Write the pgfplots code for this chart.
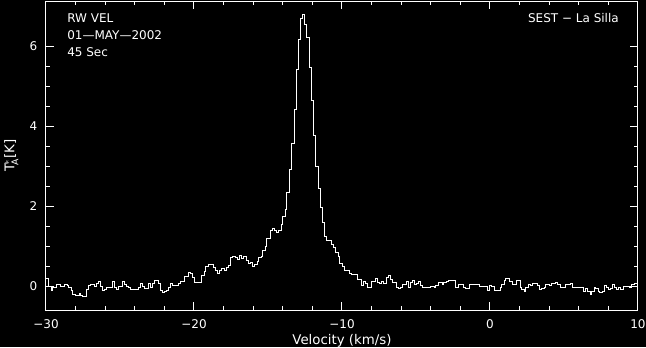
\documentclass[border=0pt]{standalone}
\usepackage{fontspec}
\setmainfont{DejaVu Sans}
\usepackage{pgfplots}
\pgfplotsset{compat=1.18}
\begin{document}
\begin{tikzpicture}
\fill[black, use as bounding box] (-34.5pt,-27.75pt) rectangle (450pt,232.5pt);
\begin{axis}[
 at={(0,0)}, anchor=south west,
 scale only axis, width=444pt, height=231.75pt,
 xmin=-30, xmax=10, ymin=-0.6, ymax=7.13,
 xtick={-30,-20,-10,0,10}, xticklabels={−30,−20,−10,0,10},
 ytick={0,2,4,6}, yticklabels={0,2,4,6},
 minor x tick num=4, minor y tick num=3,
 major tick length=6pt, minor tick length=3pt,
 tick align=inside,
 axis line style={white, line width=0.75pt},
 tick style={white, line width=0.75pt},
 tick label style={text=white, font=\fontsize{9}{11}\selectfont},
 xticklabel style={yshift=-3.75pt},
 yticklabel style={xshift=-3pt},
 label style={text=white, font=\fontsize{10}{12}\selectfont},
 xlabel={Velocity (km/s)},
 ylabel={T$^{\!*}_{\!\mbox{\fontsize{7}{7}\selectfont A}}$[K]},
 xlabel style={at={([yshift=-23pt]axis description cs:0.5,0)}, anchor=center},
 ylabel style={at={([xshift=-26pt]axis description cs:0,0.5)}, anchor=center, inner sep=0pt},
]
\addplot[white, line width=0.75pt, const plot mark left] coordinates {
(-30,0.19) (-29.82,0.0) (-29.66,-0.10) (-29.53,-0.03) (-29.26,0.03) (-28.99,-0.02)
(-28.72,0.05) (-28.58,0.01) (-28.45,-0.03) (-28.31,-0.10) (-28.18,-0.21) (-28.04,-0.23)
(-27.77,-0.18) (-27.64,-0.23) (-27.50,-0.26) (-27.27,-0.08) (-27.14,0.02) (-27.00,0.03)
(-26.73,0.0) (-26.60,0.06) (-26.46,0.11) (-26.33,0.0) (-26.19,-0.10) (-26.06,-0.09)
(-25.92,-0.03) (-25.52,0.11) (-25.38,-0.03) (-25.25,-0.09) (-25.11,-0.02) (-24.84,0.11)
(-24.71,0.03) (-24.57,0.0) (-24.44,-0.03) (-24.30,-0.08) (-23.76,-0.03) (-23.63,0.06)
(-23.49,0.0) (-23.36,-0.06) (-23.09,0.06) (-22.95,-0.03) (-22.82,0.06) (-22.68,0.14)
(-22.41,0.06) (-22.27,-0.12) (-22.14,-0.16) (-22.00,-0.13) (-21.87,-0.11) (-21.73,-0.03)
(-21.60,0.06) (-21.46,0.01) (-21.06,0.06) (-20.92,0.11) (-20.65,0.23) (-20.38,0.34)
(-20.25,0.31) (-20.11,0.21) (-19.98,0.08)
(-19.64,0.10) (-19.48,0.26) (-19.32,0.37) (-19.19,0.48) (-19.03,0.54) (-18.69,0.46)
(-18.56,0.40) (-18.42,0.32) (-18.29,0.38) (-18.15,0.44) (-17.93,0.38) (-17.79,0.46)
(-17.66,0.52) (-17.55,0.72) (-17.41,0.74) (-17.18,0.72) (-17.05,0.67) (-16.92,0.77)
(-16.78,0.68) (-16.64,0.74) (-16.47,0.64) (-16.33,0.56) (-16.17,0.58) (-16.04,0.49)
(-15.90,0.53) (-15.74,0.61) (-15.63,0.72) (-15.47,0.75) (-15.34,0.90) (-15.20,0.98)
(-15.07,1.19) (-14.84,1.38) (-14.71,1.44) (-14.57,1.39) (-14.44,1.33) (-14.30,1.40)
(-14.12,1.54) (-13.99,1.73) (-13.85,1.92) (-13.72,2.34) (-13.54,2.92) (-13.38,3.57)
(-13.22,4.42) (-13.09,5.42) (-12.95,6.17) (-12.82,6.69) (-12.66,6.79) (-12.52,6.53)
(-12.39,6.22) (-12.19,5.46) (-12.05,4.65) (-11.91,3.76) (-11.76,3.00) (-11.60,2.43)
(-11.46,1.97) (-11.33,1.58) (-11.19,1.24) (-11.02,1.15) (-10.70,1.04) (-10.57,0.97)
(-10.43,0.84) (-10.25,0.73) (-10.14,0.57) (-9.98,0.48) (-9.84,0.39)
(-9.50,0.31) (-9.37,0.28) (-9.23,0.29) (-8.96,0.16) (-8.69,0.01) (-8.56,0.11)
(-8.42,0.06) (-8.29,-0.03) (-8.02,0.11) (-7.88,0.12) (-7.75,0.18) (-7.61,0.09)
(-7.48,0.06) (-7.34,0.11) (-7.21,0.06) (-6.98,0.21) (-6.85,0.26) (-6.71,0.16)
(-6.58,0.09) (-6.31,-0.03) (-6.17,-0.06) (-6.04,-0.04) (-5.90,0.04) (-5.63,0.12)
(-5.50,-0.03) (-5.36,0.09) (-5.23,0.14) (-5.09,0.04) (-4.96,0.06) (-4.82,0.11)
(-4.69,0.02) (-4.55,-0.03) (-4.15,-0.04) (-4.01,-0.01) (-3.78,-0.04) (-3.65,0.01)
(-3.51,0.09) (-3.24,0.03) (-3.11,0.08) (-2.97,0.12) (-2.79,0.15) (-2.30,-0.03)
(-2.16,0.04) (-1.80,-0.03) (-1.67,-0.06) (-1.40,0.04) (-0.72,-0.01) (-0.18,-0.11)
(-0.05,0.01) (0.09,-0.01)
(0.30,-0.11) (0.68,-0.03) (0.81,0.05) (0.95,0.14) (1.08,0.18) (1.31,0.11)
(1.49,0.05) (1.76,0.13) (2.03,-0.04) (2.16,-0.08) (2.30,-0.13) (2.43,-0.03)
(2.57,0.03) (2.75,0.01) (2.88,0.07) (3.20,0.02) (3.33,-0.08) (3.51,-0.05)
(3.65,-0.03) (3.78,0.04) (4.01,0.01) (4.14,0.06) (4.41,0.09) (4.59,0.03)
(4.73,-0.03) (4.86,-0.04) (5.09,0.04) (5.41,0.07) (5.59,-0.03) (5.90,-0.04)
(6.31,-0.13) (6.44,-0.06) (6.62,-0.14) (6.76,-0.20) (6.89,-0.13) (7.03,-0.04)
(7.16,-0.06) (7.30,-0.14) (7.43,-0.17) (7.61,-0.14) (7.75,0.01) (7.88,-0.03)
(8.02,-0.09) (8.15,-0.06) (8.29,0.03) (8.42,-0.03) (8.56,-0.09) (8.69,-0.03)
(8.83,-0.09) (9.01,-0.01) (9.41,-0.03) (9.55,0.03) (9.73,0.06) (10,0.06)
};
\node[anchor=north west, align=left, inner sep=0pt, text=white,
      font=\fontsize{9}{12.75}\selectfont]
  at ([xshift=15.75pt, yshift=-9pt]rel axis cs:0,1) {RW VEL\\01—MAY—2002\\45 Sec};
\node[anchor=north east, inner sep=0pt, text=white, font=\fontsize{9}{11}\selectfont]
  at ([xshift=-14.25pt, yshift=-9pt]rel axis cs:1,1) {SEST − La Silla};
\end{axis}
\end{tikzpicture}
\end{document}
